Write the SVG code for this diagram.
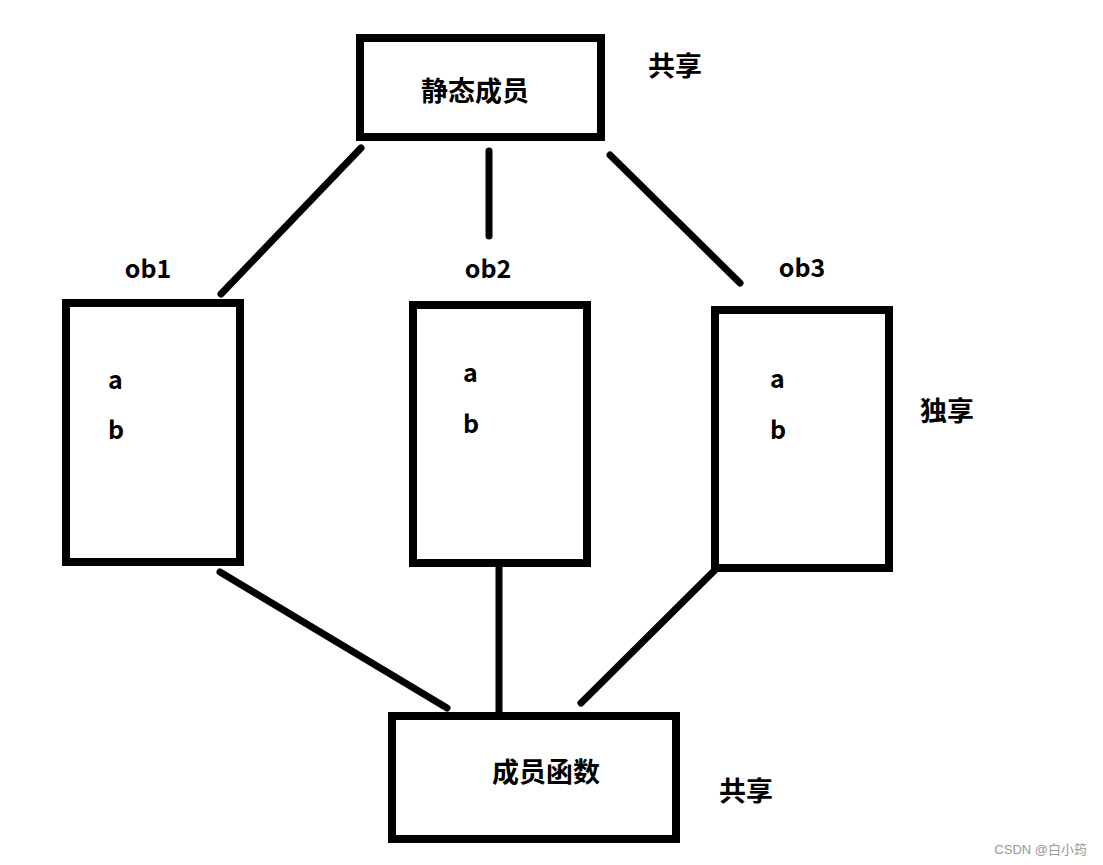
<svg xmlns="http://www.w3.org/2000/svg" width="1103" height="865" viewBox="0 0 1103 865">
<style>
.box{fill:#fff;stroke:#000;stroke-width:8}
.ln{stroke:#000;stroke-width:7;stroke-linecap:round;fill:none}
.cj{font-family:"Noto Sans CJK SC","Microsoft YaHei",sans-serif;font-weight:bold;font-size:27px;fill:#000}
.lt{font-family:"Noto Sans CJK SC","Open Sans",sans-serif;font-weight:bold;font-size:25px;fill:#000}
.wm{font-family:"Liberation Sans","Noto Sans CJK SC",sans-serif;font-size:13px;fill:#999}
</style>
<rect width="1103" height="865" fill="#fff"/>
<g id="connectors">
<line class="ln" x1="361" y1="148" x2="221" y2="294"/>
<line class="ln" x1="489" y1="151" x2="489" y2="236"/>
<line class="ln" x1="610" y1="155" x2="740" y2="283"/>
<line class="ln" x1="220" y1="572" x2="447" y2="708"/>
<line class="ln" x1="499" y1="566" x2="499" y2="714" style="stroke-linecap:butt"/>
<line class="ln" x1="715" y1="570" x2="581" y2="703"/>
</g>
<g id="static-members">
<rect class="box" x="360" y="38" width="241" height="99"/>
<text class="cj" x="475" y="101" text-anchor="middle">静态成员</text>
</g>
<g id="shared-top"><text class="cj" x="675" y="76" text-anchor="middle">共享</text></g>
<g id="ob1">
<text class="lt" x="148" y="278" text-anchor="middle">ob1</text>
<rect class="box" x="66" y="303" width="174" height="259"/>
<text class="lt" x="108" y="389">a</text>
<text class="lt" x="108" y="439">b</text>
</g>
<g id="ob2">
<text class="lt" x="488" y="278" text-anchor="middle">ob2</text>
<rect class="box" x="413" y="305" width="174" height="258"/>
<text class="lt" x="463" y="382">a</text>
<text class="lt" x="463" y="433">b</text>
</g>
<g id="ob3">
<text class="lt" x="802" y="277" text-anchor="middle">ob3</text>
<rect class="box" x="715" y="310" width="174" height="258"/>
<text class="lt" x="770" y="388">a</text>
<text class="lt" x="770" y="439">b</text>
</g>
<g id="exclusive"><text class="cj" x="947" y="421" text-anchor="middle">独享</text></g>
<g id="member-functions">
<rect class="box" x="392" y="716" width="284" height="123"/>
<text class="cj" x="546" y="782" text-anchor="middle">成员函数</text>
</g>
<g id="shared-bottom"><text class="cj" x="746" y="801" text-anchor="middle">共享</text></g>
<text class="wm" x="1087" y="854" text-anchor="end">CSDN @白小筠</text>
</svg>
